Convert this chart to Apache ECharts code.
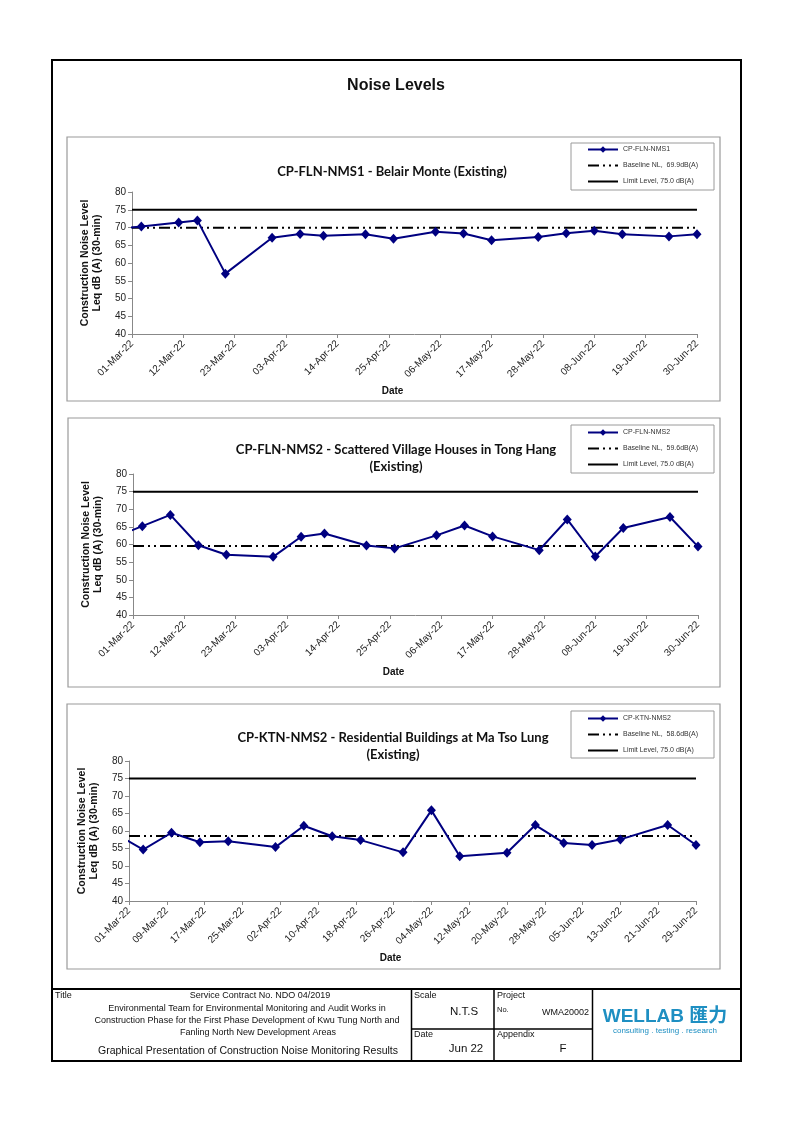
<!DOCTYPE html>
<html><head><meta charset="utf-8">
<script src="https://cdn.jsdelivr.net/npm/echarts@6/dist/echarts.min.js"></script>
<style>html,body{margin:0;padding:0;background:#fff}#c{width:793px;height:1123px}</style>
</head><body><div id="c"></div>
<script>
// ---------- DATA ----------
const yTicks = [40, 45, 50, 55, 60, 65, 70, 75, 80];

const ticksA = ['01-Mar-22','12-Mar-22','23-Mar-22','03-Apr-22','14-Apr-22','25-Apr-22','06-May-22','17-May-22','28-May-22','08-Jun-22','19-Jun-22','30-Jun-22'];
const ticksB = ['01-Mar-22','09-Mar-22','17-Mar-22','25-Mar-22','02-Apr-22','10-Apr-22','18-Apr-22','26-Apr-22','04-May-22','12-May-22','20-May-22','28-May-22','05-Jun-22','13-Jun-22','21-Jun-22','29-Jun-22'];

const dates1 = ['25-Feb-22','03-Mar-22','11-Mar-22','15-Mar-22','21-Mar-22','31-Mar-22','06-Apr-22','11-Apr-22','20-Apr-22','26-Apr-22','05-May-22','11-May-22','17-May-22','27-May-22','02-Jun-22','08-Jun-22','14-Jun-22','24-Jun-22','30-Jun-22'];
const values1 = [69.4, 70.3, 71.4, 72.0, 57.0, 67.1, 68.2, 67.7, 68.1, 66.8, 68.8, 68.3, 66.4, 67.3, 68.4, 69.1, 68.1, 67.5, 68.1];

const dates2 = ['25-Feb-22','03-Mar-22','09-Mar-22','15-Mar-22','21-Mar-22','31-Mar-22','06-Apr-22','11-Apr-22','20-Apr-22','26-Apr-22','05-May-22','11-May-22','17-May-22','27-May-22','02-Jun-22','08-Jun-22','14-Jun-22','24-Jun-22','30-Jun-22'];
const values2 = [62.1, 65.2, 68.4, 59.8, 57.1, 56.5, 62.2, 63.1, 59.7, 58.9, 62.6, 65.4, 62.3, 58.4, 67.1, 56.6, 64.7, 67.8, 59.4];

const dates3 = ['26-Feb-22','04-Mar-22','10-Mar-22','16-Mar-22','22-Mar-22','01-Apr-22','07-Apr-22','13-Apr-22','19-Apr-22','28-Apr-22','04-May-22','10-May-22','20-May-22','26-May-22','01-Jun-22','07-Jun-22','13-Jun-22','23-Jun-22','29-Jun-22'];
const values3 = [59.3, 54.7, 59.5, 56.8, 57.1, 55.4, 61.5, 58.5, 57.4, 53.9, 65.9, 52.8, 53.8, 61.7, 56.6, 56.0, 57.6, 61.7, 56.0];

const names = ['CP-FLN-NMS1', 'CP-FLN-NMS2', 'CP-KTN-NMS2'];
const baselines = [69.9, 59.6, 58.6];
const baselineNames = ['Baseline NL,  69.9dB(A)', 'Baseline NL,  59.6dB(A)', 'Baseline NL,  58.6dB(A)'];
const limitValue = 75.0;
const limitName = 'Limit Level, 75.0 dB(A)';
const chartTitles = [
  ['CP-FLN-NMS1 - Belair Monte (Existing)'],
  ['CP-FLN-NMS2 - Scattered Village Houses in Tong Hang', '(Existing)'],
  ['CP-KTN-NMS2 - Residential Buildings at Ma Tso Lung', '(Existing)']
];

// ---------- HELPERS ----------
const MONTHS = ['Jan','Feb','Mar','Apr','May','Jun','Jul','Aug','Sep','Oct','Nov','Dec'];
function dayNum(s){ const p = s.split('-'); return Date.UTC(2000 + (+p[2]), MONTHS.indexOf(p[1]), +p[0]) / 864e5; }
const START = dayNum('01-Mar-22');
const off = s => dayNum(s) - START;

const AR = 'Liberation Sans';
const CAL = 'Lato';

const panels = [
  {dates: dates1, values: values1, ticks: ticksA, grid: {left: 132, top: 192, width: 565, height: 142}, legendTop: 146, box: [67, 137, 653, 264], lbox: [571, 143, 143, 47], titleY: [172]},
  {dates: dates2, values: values2, ticks: ticksA, grid: {left: 133, top: 474, width: 565, height: 141}, legendTop: 429, box: [68, 418, 652, 269], lbox: [571, 425, 143, 48], titleY: [450, 467]},
  {dates: dates3, values: values3, ticks: ticksB, grid: {left: 129, top: 761, width: 567, height: 140}, legendTop: 715, box: [67, 704, 653, 265], lbox: [571, 711, 143, 47], titleY: [738, 755]}
];
const titleX = [392, 396, 393];

const grids = [], xAxes = [], yAxes = [], series = [], legends = [], graphics = [];

panels.forEach((p, i) => {
  const step = (off(p.ticks[1]) - off(p.ticks[0]));
  const xmax = off(p.ticks[p.ticks.length - 1]);
  grids.push(Object.assign({containLabel: false}, p.grid));
  xAxes.push({
    type: 'value', gridIndex: i, min: 0, max: xmax, interval: step,
    name: 'Date', nameLocation: 'middle', nameGap: 52,
    nameTextStyle: {fontFamily: AR, fontWeight: 'bold', fontSize: 10, color: '#111', padding: [0, 44, 0, 0]},
    axisLine: {show: true, lineStyle: {color: '#888', width: 1}},
    axisTick: {show: true, length: 4, lineStyle: {color: '#888'}},
    splitLine: {show: false},
    axisLabel: {rotate: 45, margin: 8, fontFamily: AR, fontSize: 10, color: '#222',
      formatter: v => p.ticks[Math.round(v / step)] || ''}
  });
  yAxes.push({
    type: 'value', gridIndex: i, min: yTicks[0], max: yTicks[yTicks.length - 1], interval: yTicks[1] - yTicks[0],
    name: 'Construction Noise Level\nLeq dB (A) (30-min)', nameLocation: 'middle', nameGap: 29, nameRotate: 90,
    nameTextStyle: {fontFamily: AR, fontWeight: 'bold', fontSize: 10.5, color: '#111', lineHeight: 12},
    axisLine: {show: true, lineStyle: {color: '#888', width: 1}},
    axisTick: {show: true, length: 4, lineStyle: {color: '#888'}},
    splitLine: {show: false},
    axisLabel: {fontFamily: AR, fontSize: 10, color: '#222', margin: 6}
  });
  series.push({
    name: limitName, type: 'line', xAxisIndex: i, yAxisIndex: i, symbol: 'none', silent: true,
    data: [[0, limitValue], [xmax, limitValue]],
    lineStyle: {color: '#000', width: 2, type: 'solid'}, itemStyle: {color: '#000'}, z: 2
  });
  series.push({
    name: baselineNames[i], type: 'line', xAxisIndex: i, yAxisIndex: i, symbol: 'none', silent: true,
    data: [[0, baselines[i]], [xmax, baselines[i]]],
    lineStyle: {color: '#000', width: 2, type: [11, 4, 2, 4, 2, 4]}, itemStyle: {color: '#000'}, z: 2
  });
  series.push({
    name: names[i], type: 'line', xAxisIndex: i, yAxisIndex: i, clip: true,
    symbol: 'diamond', symbolSize: [9, 10], showAllSymbol: true,
    data: p.dates.map((d, k) => [off(d), p.values[k]]),
    lineStyle: {color: '#000080', width: 2}, itemStyle: {color: '#000080'}, z: 3
  });
  legends.push({
    orient: 'vertical', left: 587, top: p.legendTop, padding: 0, itemGap: 9, itemWidth: 30, itemHeight: 8,
    data: [names[i],
      {name: baselineNames[i], itemStyle: {opacity: 0}},
      {name: limitName, itemStyle: {opacity: 0}}],
    selectedMode: false,
    textStyle: {fontFamily: AR, fontSize: 7, color: '#333'}
  });
  graphics.push({type: 'rect', shape: {x: p.box[0], y: p.box[1], width: p.box[2], height: p.box[3]}, style: {fill: 'none', stroke: '#9a9a9a', lineWidth: 1.2}});
  graphics.push({type: 'rect', shape: {x: p.lbox[0], y: p.lbox[1], width: p.lbox[2], height: p.lbox[3]}, style: {fill: 'none', stroke: '#9a9a9a', lineWidth: 1}});
  chartTitles[i].forEach((t, k) => {
    graphics.push({type: 'text', x: titleX[i], y: p.titleY[k], style: {text: t, font: 'bold 13px ' + CAL, fill: '#111', textAlign: 'center', textVerticalAlign: 'middle'}});
  });
});

// page frame, main title, footer
const txt = (x, y, t, size, align, extra) => Object.assign({type: 'text', x: x, y: y, style: {text: t, font: (extra && extra.bold ? 'bold ' : '') + size + 'px ' + ((extra && extra.family) || AR), fill: (extra && extra.color) || '#111', textAlign: align, textVerticalAlign: 'middle'}});
graphics.push({type: 'rect', shape: {x: 52, y: 60, width: 689, height: 1001}, style: {fill: 'none', stroke: '#000', lineWidth: 2}});
graphics.push(txt(396, 86, 'Noise Levels', 16, 'center', {bold: true}));
graphics.push({type: 'line', shape: {x1: 52, y1: 989, x2: 741, y2: 989}, style: {stroke: '#000', lineWidth: 2}});
graphics.push({type: 'line', shape: {x1: 411.5, y1: 989, x2: 411.5, y2: 1061}, style: {stroke: '#000', lineWidth: 1.5}});
graphics.push({type: 'line', shape: {x1: 494, y1: 989, x2: 494, y2: 1061}, style: {stroke: '#000', lineWidth: 1.5}});
graphics.push({type: 'line', shape: {x1: 592.5, y1: 989, x2: 592.5, y2: 1061}, style: {stroke: '#000', lineWidth: 1.5}});
graphics.push({type: 'line', shape: {x1: 411.5, y1: 1029, x2: 592.5, y2: 1029}, style: {stroke: '#000', lineWidth: 1.5}});
graphics.push(txt(55, 996, 'Title', 9, 'left'));
graphics.push(txt(260, 996, 'Service Contract No. NDO 04/2019', 9, 'center'));
graphics.push(txt(247, 1009, 'Environmental Team for Environmental Monitoring and Audit Works in', 9, 'center'));
graphics.push(txt(247, 1021, 'Construction Phase for the First Phase Development of Kwu Tung North and', 9, 'center'));
graphics.push(txt(258, 1033, 'Fanling North New Development Areas', 9, 'center'));
graphics.push(txt(248, 1051, 'Graphical Presentation of Construction Noise Monitoring Results', 10.5, 'center'));
graphics.push(txt(414, 996, 'Scale', 9, 'left'));
graphics.push(txt(464, 1012, 'N.T.S', 11.5, 'center'));
graphics.push(txt(414, 1035, 'Date', 9, 'left'));
graphics.push(txt(466, 1049, 'Jun 22', 11.5, 'center'));
graphics.push(txt(497, 996, 'Project', 9, 'left'));
graphics.push(txt(497, 1010, 'No.', 7.5, 'left'));
graphics.push(txt(589, 1013, 'WMA20002', 9, 'right'));
graphics.push(txt(497, 1035, 'Appendix', 9, 'left'));
graphics.push(txt(563, 1049, 'F', 11.5, 'center'));
graphics.push(txt(665, 1017, 'WELLAB 匯力', 19, 'center', {bold: true, color: '#1e8fc2', family: 'Liberation Sans, Noto Sans CJK TC'}));
graphics.push(txt(665, 1031, 'consulting . testing . research', 8, 'center', {color: '#1e8fc2'}));

const chart = echarts.init(document.getElementById('c'), null, {renderer: 'canvas'});
chart.setOption({
  backgroundColor: '#fff',
  animation: false,
  grid: grids, xAxis: xAxes, yAxis: yAxes, series: series, legend: legends,
  graphic: graphics
});
</script></body></html>
